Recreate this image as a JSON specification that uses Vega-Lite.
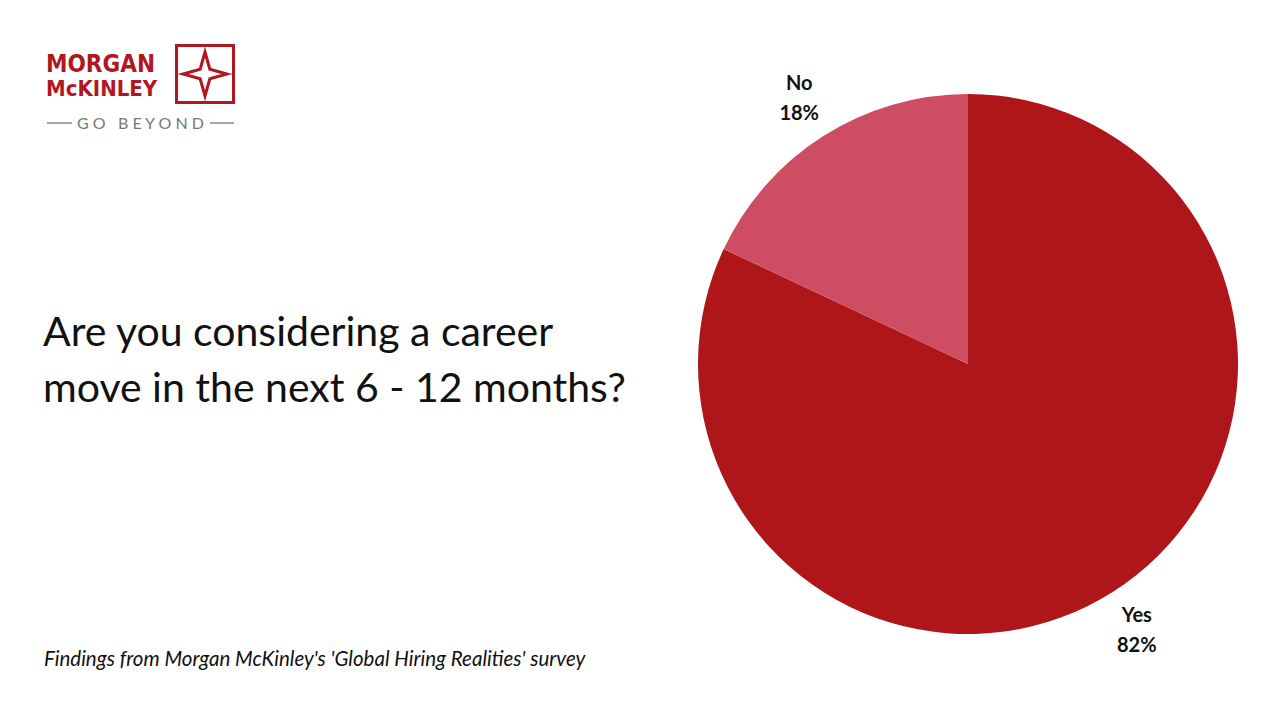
{
  "$schema": "https://vega.github.io/schema/vega-lite/v6.json",
  "width": 1280,
  "height": 719,
  "padding": 0,
  "autosize": {"type": "none"},
  "background": "#ffffff",
  "config": {"view": {"stroke": null}, "font": "Lato"},
  "layer": [
    {
      "data": {"values": [{"answer": "Yes", "share": 0.82}, {"answer": "No", "share": 0.18}]},
      "mark": {"type": "arc", "outerRadius": 270},
      "encoding": {
        "theta": {"field": "share", "type": "quantitative", "stack": true},
        "color": {"field": "answer", "type": "nominal", "scale": {"domain": ["Yes", "No"], "range": ["#AE161A", "#CF4D62"]}, "legend": null},
        "order": {"field": "share", "sort": "descending"},
        "x": {"datum": 968, "type": "quantitative", "scale": {"domain": [0, 1280], "nice": false, "zero": false}, "axis": null},
        "y": {"datum": 364, "type": "quantitative", "scale": {"domain": [0, 719], "nice": false, "zero": false, "reverse": true}, "axis": null}
      }
    },
    {
      "data": {"values": [{"answer": "Yes", "share": 0.82}, {"answer": "No", "share": 0.18}]},
      "mark": {"type": "text", "radius": 315, "font": "Lato", "fontWeight": "bold", "fontSize": 20, "dy": -14, "color": "#111111"},
      "encoding": {
        "theta": {"field": "share", "type": "quantitative", "stack": true},
        "detail": {"field": "answer", "type": "nominal"},
        "order": {"field": "share", "sort": "descending"},
        "text": {"field": "answer", "type": "nominal"},
        "x": {"datum": 968, "type": "quantitative"},
        "y": {"datum": 364, "type": "quantitative"}
      }
    },
    {
      "data": {"values": [{"answer": "Yes", "share": 0.82}, {"answer": "No", "share": 0.18}]},
      "mark": {"type": "text", "radius": 315, "font": "Lato", "fontWeight": "bold", "fontSize": 20, "dy": 16, "color": "#111111"},
      "encoding": {
        "theta": {"field": "share", "type": "quantitative", "stack": true},
        "detail": {"field": "answer", "type": "nominal"},
        "order": {"field": "share", "sort": "descending"},
        "text": {"field": "share", "type": "quantitative", "format": ".0%"},
        "x": {"datum": 968, "type": "quantitative"},
        "y": {"datum": 364, "type": "quantitative"}
      }
    },
    {
      "data": {"values": [{}]},
      "mark": {"type": "text", "text": ["Are you considering a career", "move in the next 6 - 12 months?"], "font": "Lato", "fontSize": 41, "lineHeight": 56, "align": "left", "baseline": "alphabetic", "color": "#111111"},
      "encoding": {"x": {"datum": 43, "type": "quantitative"}, "y": {"datum": 346, "type": "quantitative"}}
    },
    {
      "data": {"values": [{}]},
      "mark": {"type": "text", "text": "Findings from Morgan McKinley's 'Global Hiring Realities' survey", "font": "Lato", "fontStyle": "italic", "fontSize": 20.5, "align": "left", "baseline": "alphabetic", "color": "#111111"},
      "encoding": {"x": {"datum": 44, "type": "quantitative"}, "y": {"datum": 666, "type": "quantitative"}}
    },
    {
      "data": {"values": [{}]},
      "mark": {"type": "text", "text": "MORGAN", "font": "DejaVu Sans Condensed", "fontWeight": "bold", "fontSize": 24, "align": "left", "baseline": "alphabetic", "color": "#B0171E"},
      "encoding": {"x": {"datum": 46, "type": "quantitative"}, "y": {"datum": 72, "type": "quantitative"}}
    },
    {
      "data": {"values": [{}]},
      "mark": {"type": "text", "text": "McKINLEY", "font": "DejaVu Sans Condensed", "fontWeight": "bold", "fontSize": 22, "align": "left", "baseline": "alphabetic", "color": "#B0171E"},
      "encoding": {"x": {"datum": 46, "type": "quantitative"}, "y": {"datum": 96, "type": "quantitative"}}
    },
    {
      "data": {"values": [{}]},
      "mark": {"type": "point", "shape": "square", "size": 3249, "filled": false, "stroke": "#B0171E", "strokeWidth": 3, "opacity": 1},
      "encoding": {"x": {"datum": 205, "type": "quantitative"}, "y": {"datum": 74, "type": "quantitative"}}
    },
    {
      "data": {"values": [{}]},
      "mark": {"type": "point", "shape": "M0,-1 L0.22,-0.22 L1,0 L0.22,0.22 L0,1 L-0.22,0.22 L-1,0 L-0.22,-0.22 Z", "size": 1936, "filled": false, "stroke": "#B0171E", "strokeWidth": 3, "strokeJoin": "miter", "opacity": 1},
      "encoding": {"x": {"datum": 205, "type": "quantitative"}, "y": {"datum": 74, "type": "quantitative"}}
    },
    {
      "data": {"values": [{}]},
      "mark": {"type": "text", "text": "G\u00a0O\u00a0\u00a0\u00a0B\u00a0E\u00a0Y\u00a0O\u00a0N\u00a0D", "font": "Lato", "fontSize": 16, "align": "center", "baseline": "alphabetic", "color": "#777777"},
      "encoding": {"x": {"datum": 140.5, "type": "quantitative"}, "y": {"datum": 129, "type": "quantitative"}}
    },
    {
      "data": {"values": [{}]},
      "mark": {"type": "rule", "stroke": "#888888", "strokeWidth": 1.5},
      "encoding": {"x": {"datum": 47, "type": "quantitative"}, "x2": {"datum": 72}, "y": {"datum": 123, "type": "quantitative"}}
    },
    {
      "data": {"values": [{}]},
      "mark": {"type": "rule", "stroke": "#888888", "strokeWidth": 1.5},
      "encoding": {"x": {"datum": 210, "type": "quantitative"}, "x2": {"datum": 234}, "y": {"datum": 123, "type": "quantitative"}}
    }
  ]
}
